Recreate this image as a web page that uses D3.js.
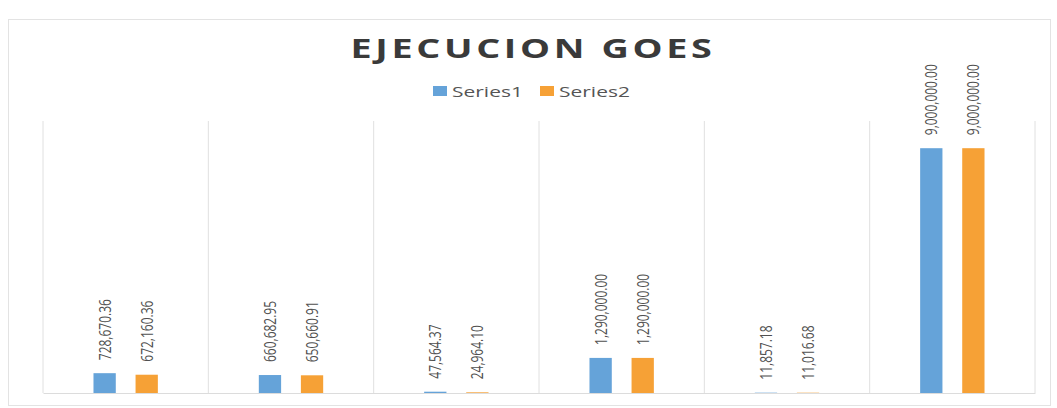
<!DOCTYPE html>
<html>
<head>
<meta charset="utf-8">
<script src="https://cdn.jsdelivr.net/npm/d3@7"></script>
<style>
  body { margin: 0; background: #fff; }
  svg { display: block; }
</style>
</head>
<body>
<svg id="chart"></svg>
<script>
const width = 1057;
const height = 408;

// data
const categories = ['C1', 'C2', 'C3', 'C4', 'C5', 'C6'];
const seriesNames = ['Series1', 'Series2'];
const series1 = [728670.36, 660682.95, 47564.37, 1290000.00, 11857.18, 9000000.00];
const series2 = [672160.36, 650660.91, 24964.10, 1290000.00, 11016.68, 9000000.00];
const yMax = 10000000;

const colors = ['#65A3D9', '#F6A136'];
const plot = {left: 43, right: 1035, top: 121, bottom: 393};
// the scanned picture is stretched sideways, text follows that
const stretch = 1.4;

const svg = d3.select('#chart')
    .attr('width', width)
    .attr('height', height);

// outer chart border
svg.append('rect')
    .attr('x', 8.5).attr('y', 19.5)
    .attr('width', 1042).attr('height', 386)
    .attr('fill', '#fff')
    .attr('stroke', '#e3e3e3');

const x = d3.scaleBand().domain(categories).range([plot.left, plot.right]).padding(0);
const xInner = d3.scaleBand().domain(seriesNames).range([0, x.bandwidth()])
    .paddingInner(0.47).paddingOuter(1.2);
const y = d3.scaleLinear().domain([0, yMax]).range([plot.bottom, plot.top]);

// vertical category gridlines + baseline
const gGrid = svg.append('g').attr('transform', `translate(0, ${plot.bottom})`);
gGrid.call(d3.axisBottom(x).tickSize(0).tickFormat(''));
categories.concat(['end']).forEach(c => {
    const gx = c === 'end' ? plot.right : x(c);
    gGrid.append('line')
        .attr('x1', gx).attr('x2', gx)
        .attr('y1', 0).attr('y2', -(plot.bottom - plot.top));
});
gGrid.selectAll('line').attr('stroke', '#e0e0e0').attr('stroke-width', 1);
gGrid.select('.domain').attr('stroke', '#dcdcdc');

const rows = categories.map((c, i) => ({
    category: c,
    values: [{name: 'Series1', value: series1[i]}, {name: 'Series2', value: series2[i]}]
}));

const groups = svg.selectAll('.cat').data(rows)
    .enter()
    .append('g')
    .attr('class', 'cat')
    .attr('transform', d => `translate(${x(d.category)}, 0)`);

groups.selectAll('rect').data(d => d.values)
    .enter()
    .append('rect')
    .attr('x', d => xInner(d.name))
    .attr('width', xInner.bandwidth())
    .attr('y', d => y(d.value))
    .attr('height', d => plot.bottom - y(d.value))
    .style('fill', (d, i) => colors[i]);

const fmt = d3.format(',.2f');
groups.selectAll('text').data(d => d.values)
    .enter()
    .append('text')
    .attr('transform', d => `translate(${xInner(d.name) + xInner.bandwidth() / 2 + 6}, ${y(d.value) - 13}) scale(${stretch}, 1) rotate(-90)`)
    .attr('font-family', '"Open Sans", sans-serif')
    .attr('font-size', 12)
    .attr('fill', '#505050')
    .text(d => fmt(d.value));

// title
svg.append('text')
    .attr('transform', `translate(533, 58) scale(${stretch}, 1)`)
    .attr('text-anchor', 'middle')
    .attr('font-family', '"Open Sans", sans-serif')
    .attr('font-weight', 'bold')
    .attr('font-size', 27)
    .attr('letter-spacing', 2.6)
    .attr('fill', '#3a3a3a')
    .text('EJECUCION  GOES');

// legend
const legend = svg.append('g').attr('transform', 'translate(433, 91)');
const legendX = [0, 107];
seriesNames.forEach((name, i) => {
    const item = legend.append('g').attr('transform', `translate(${legendX[i]}, 0)`);
    item.append('rect')
        .attr('x', 0).attr('y', -5)
        .attr('width', 14).attr('height', 10)
        .style('fill', colors[i]);
    item.append('text')
        .attr('transform', `translate(19, 5.5) scale(${stretch}, 1)`)
        .attr('font-family', '"Open Sans", sans-serif')
        .attr('font-size', 15)
        .attr('fill', '#555')
        .text(name);
});
</script>
</body>
</html>
